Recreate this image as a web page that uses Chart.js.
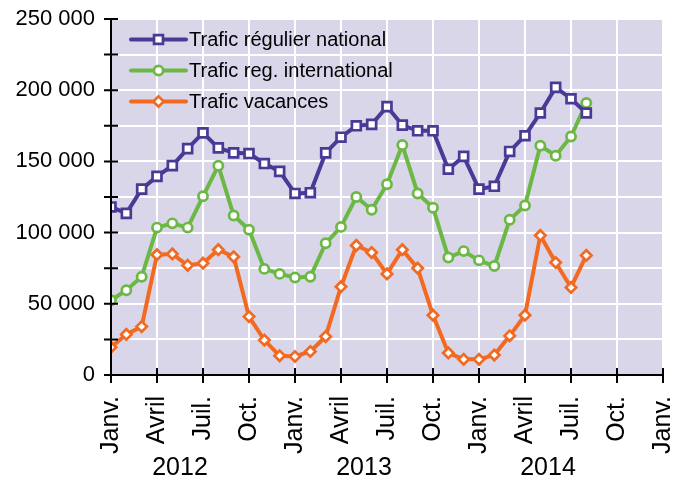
<!DOCTYPE html>
<html>
<head>
<meta charset="utf-8">
<script src="https://cdn.jsdelivr.net/npm/chart.js@4"></script>
<style>
  html, body { margin: 0; padding: 0; background: #fff; }
  #wrap { width: 684px; height: 477px; }
</style>
</head>
<body>
<div id="wrap"><canvas id="c"></canvas></div>
<script>
// months counted from Janv. 2012
const monthNames = ['Janv.', 'Avril', 'Juil.', 'Oct.'];
const years = ['2012', '2013', '2014'];
const seriesNames = ['Trafic régulier national', 'Trafic reg. international', 'Trafic vacances'];

const national = [118000, 113500, 130500, 139500, 147000, 159000, 170000, 159500, 156000, 155500, 148500, 143000,
                  127500, 128000, 156000, 167000, 175000, 176000, 188500, 175500, 171500, 171500, 144500, 153500,
                  130500, 132500, 157000, 168000, 184000, 202000, 194000, 184000];
const international = [52500, 59500, 69000, 103500, 106500, 103500, 125500, 147000, 112000, 102000, 74500, 71000,
                       68500, 69000, 92500, 104000, 125000, 116000, 134000, 161500, 127500, 117500, 82500, 87000,
                       80500, 76500, 109000, 119000, 161000, 154000, 167500, 191000];
const vacances = [19500, 28500, 34000, 84500, 85000, 77000, 78500, 88000, 83000, 41000, 24500, 13500,
                  13000, 16500, 27000, 62000, 91000, 86000, 71000, 88000, 75000, 42000, 15500, 11000,
                  11000, 14000, 27500, 42000, 98000, 79000, 61500, 84000];

const FONT = '"Liberation Sans", Arial, sans-serif';

function toPoints(arr) {
    return arr.map((v, i) => ({ x: i, y: v }));
}

function makeSet(label, values, color, style, radius) {
    return {
        label: label,
        data: toPoints(values),
        borderColor: color,
        borderWidth: 4,
        pointStyle: style,
        pointRadius: radius,
        pointBorderWidth: 2.7,
        pointBackgroundColor: '#fff',
        pointBorderColor: color,
        tension: 0
    };
}

const bgPlugin = {
    id: 'plotBg',
    beforeDraw(chart) {
        const a = chart.chartArea, ctx = chart.ctx;
        ctx.save();
        ctx.fillStyle = '#d9d6ea';
        ctx.fillRect(a.left, a.top, a.right - a.left, a.bottom - a.top);
        ctx.restore();
    }
};

// black axis lines and ticks crossing them
const axesPlugin = {
    id: 'axesTicks',
    afterDatasetsDraw(chart) {
        const a = chart.chartArea, ctx = chart.ctx;
        const xs = chart.scales.x, ys = chart.scales.y;
        ctx.save();
        ctx.strokeStyle = '#000';
        ctx.lineWidth = 2;
        ctx.beginPath();
        ctx.moveTo(a.left, a.top);
        ctx.lineTo(a.left, a.bottom);
        ctx.lineTo(a.right, a.bottom);
        ctx.stroke();
        ctx.beginPath();
        ys.ticks.forEach(t => {
            const y = ys.getPixelForValue(t.value);
            ctx.moveTo(a.left - 7, y);
            ctx.lineTo(a.left + 7, y);
        });
        xs.ticks.forEach(t => {
            const x = xs.getPixelForValue(t.value);
            ctx.moveTo(x, a.bottom - 7);
            ctx.lineTo(x, a.bottom + 8);
        });
        ctx.stroke();

        // year labels, centred between Janv. and Oct.
        ctx.fillStyle = '#000';
        ctx.font = '25px ' + FONT;
        ctx.textAlign = 'center';
        ctx.textBaseline = 'alphabetic';
        years.forEach((yr, i) => {
            const x = (xs.getPixelForValue(i * 12) + xs.getPixelForValue(i * 12 + 9)) / 2;
            ctx.fillText(yr, x, 475);
        });
        ctx.restore();
    }
};

const legendPlugin = {
    id: 'lineLegend',
    afterDraw(chart) {
        const a = chart.chartArea, ctx = chart.ctx;
        ctx.save();
        chart.data.datasets.forEach((ds, i) => {
            const y = a.top + 20.5 + i * 31;
            const x0 = a.left + 20, x1 = x0 + 55;
            ctx.strokeStyle = ds.borderColor;
            ctx.lineWidth = 4;
            ctx.lineCap = 'round';
            ctx.beginPath();
            ctx.moveTo(x0, y);
            ctx.lineTo(x1, y);
            ctx.stroke();
            ctx.fillStyle = '#fff';
            ctx.lineWidth = ds.pointBorderWidth;
            Chart.helpers.drawPoint(ctx, {
                pointStyle: ds.pointStyle,
                radius: ds.pointRadius,
                borderWidth: ds.pointBorderWidth,
                rotation: 0
            }, (x0 + x1) / 2, y);
            ctx.fillStyle = '#000';
            ctx.font = '20px ' + FONT;
            ctx.textAlign = 'left';
            ctx.textBaseline = 'middle';
            ctx.fillText(ds.label, x1 + 3, y + 1);
        });
        ctx.restore();
    }
};

new Chart(document.getElementById('c'), {
    type: 'line',
    data: {
        datasets: [
            makeSet(seriesNames[0], national, '#4a3a96', 'rect', 6.3),
            makeSet(seriesNames[1], international, '#6cb844', 'circle', 4.6),
            makeSet(seriesNames[2], vacances, '#f26a21', 'rectRot', 5.2)
        ]
    },
    options: {
        responsive: true,
        maintainAspectRatio: false,
        animation: false,
        layout: { padding: { top: 19, right: 21, left: 0, bottom: 0 } },
        plugins: {
            legend: { display: false },
            tooltip: { enabled: false }
        },
        scales: {
            x: {
                type: 'linear',
                min: 0,
                max: 36,
                afterFit(scale) {
                    scale.height = 102;
                    scale.paddingLeft = 0;
                    scale.paddingRight = 0;
                },
                border: { display: false },
                grid: { color: '#fff', lineWidth: 2, drawTicks: false },
                ticks: {
                    stepSize: 3,
                    autoSkip: false,
                    minRotation: 90,
                    maxRotation: 90,
                    padding: 21,
                    color: '#000',
                    font: { family: FONT, size: 25 },
                    callback: v => monthNames[(v / 3) % 4]
                }
            },
            y: {
                min: 0,
                max: 250000,
                afterFit(scale) {
                    scale.width = 111;
                    scale.paddingTop = 0;
                    scale.paddingBottom = 0;
                },
                border: { display: false },
                grid: { color: '#fff', lineWidth: 2, drawTicks: false },
                ticks: {
                    stepSize: 25000,
                    padding: 16,
                    color: '#000',
                    font: { family: FONT, size: 22 },
                    callback: v => (v % 50000 === 0 ? (v === 0 ? '0' : (v / 1000) + ' 000') : '')
                }
            }
        }
    },
    plugins: [bgPlugin, axesPlugin, legendPlugin]
});
</script>
</body>
</html>
